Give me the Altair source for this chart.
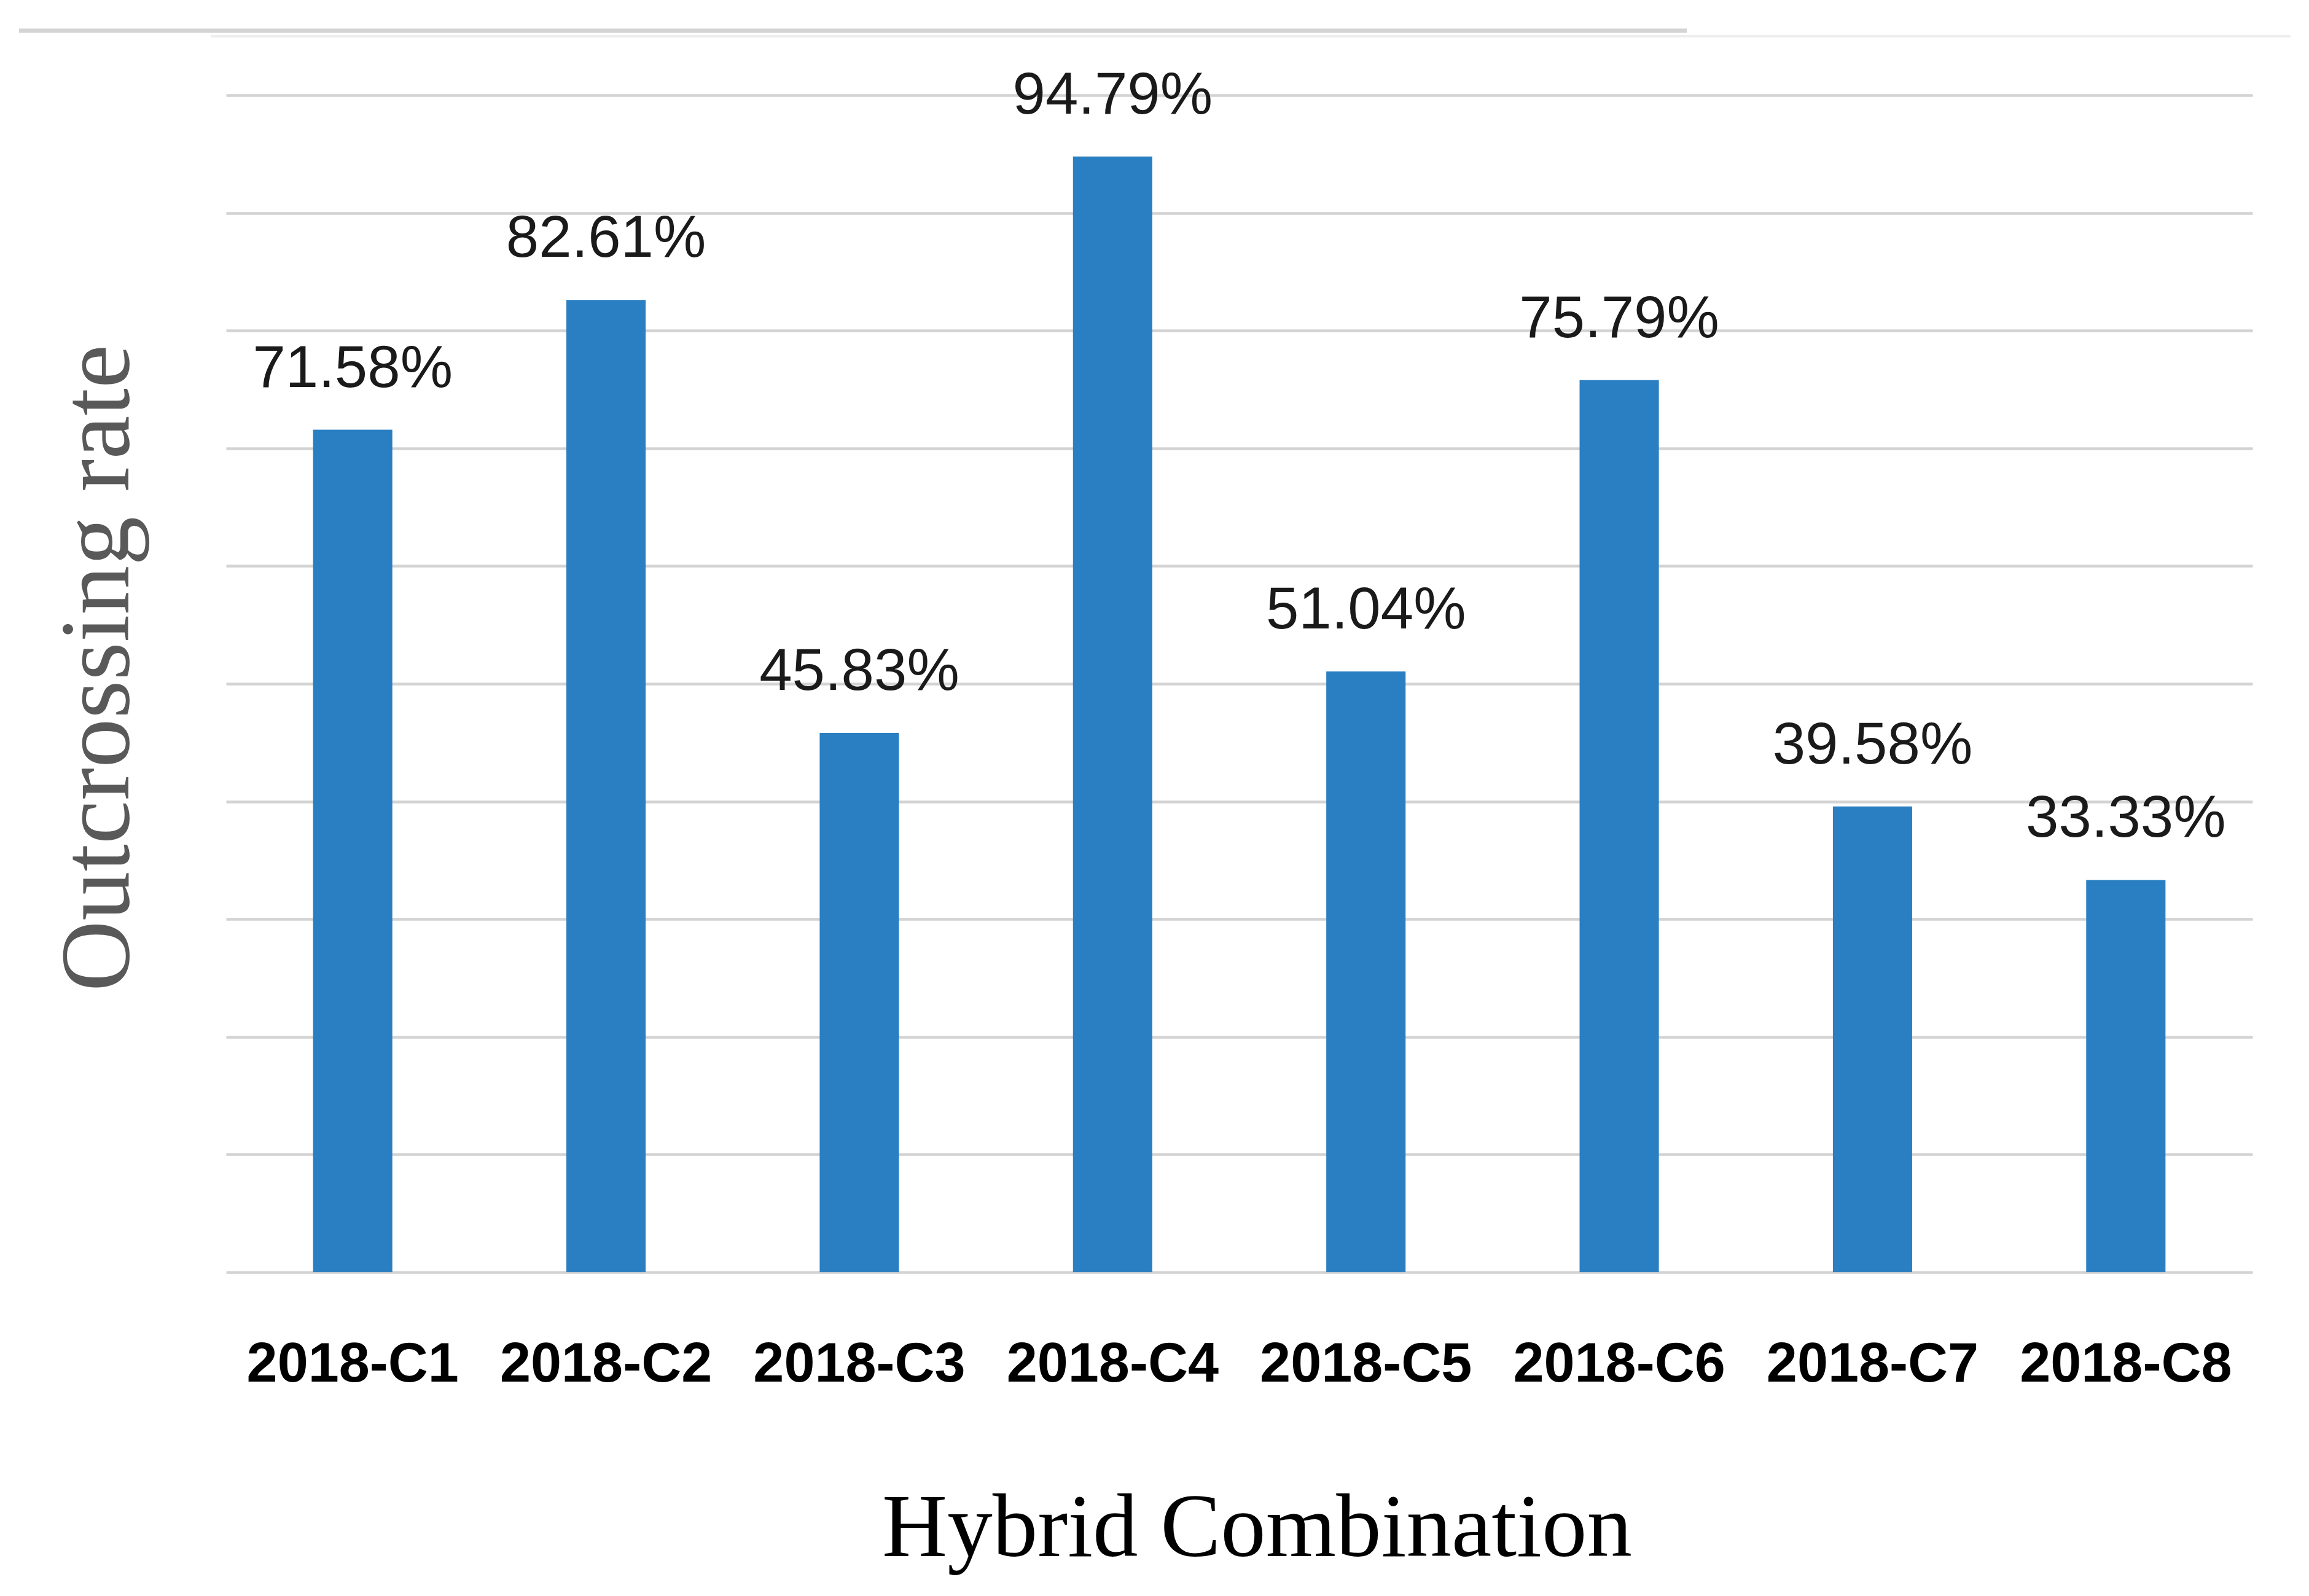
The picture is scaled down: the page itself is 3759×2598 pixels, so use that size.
import altair as alt
import pandas as pd

categories = ["2018-C1", "2018-C2", "2018-C3", "2018-C4", "2018-C5", "2018-C6", "2018-C7", "2018-C8"]
rates = [71.58, 82.61, 45.83, 94.79, 51.04, 75.79, 39.58, 33.33]
grid_values = [0, 10, 20, 30, 40, 50, 60, 70, 80, 90, 100]

df = pd.DataFrame({
    "combo": categories,
    "rate": rates,
    "label": [f"{v:.2f}%" for v in rates],
})

LABEL_FONT = "Liberation Sans Narrow, Arial Narrow, Liberation Sans, sans-serif"
TITLE_FONT = "Liberation Serif, Times New Roman, serif"

x = alt.X(
    "combo:N",
    sort=categories,
    scale=alt.Scale(paddingInner=0.687, paddingOuter=0.3435),
    axis=alt.Axis(
        title="Hybrid Combination",
        titleFont=TITLE_FONT,
        titleFontSize=147,
        titleFontWeight="normal",
        titleColor="#000000",
        titleX=1678,
        titleY=461,
        titleAlign="center",
        titleBaseline="alphabetic",
        labelAngle=0,
        labelFont=LABEL_FONT,
        labelFontSize=90,
        labelFontWeight="bold",
        labelColor="#000000",
        labelBaseline="alphabetic",
        labelPadding=177,
        labelLimit=0,
        labelOverlap=False,
        ticks=False,
        tickSize=0,
        domain=False,
        grid=False,
    ),
)

y = alt.Y(
    "rate:Q",
    scale=alt.Scale(domain=[0, 100], nice=False),
    axis=alt.Axis(
        title="Outcrossing rate",
        titleFont=TITLE_FONT,
        titleFontSize=160,
        titleFontWeight="normal",
        titleColor="#595959",
        titleX=-160,
        titleY=932,
        titleAngle=-90,
        titleAlign="center",
        titleBaseline="alphabetic",
        values=grid_values,
        labels=False,
        ticks=False,
        tickSize=0,
        domain=False,
        grid=True,
        gridColor="#d3d3d3",
        gridWidth=4.5,
    ),
)

bars = alt.Chart(df).mark_bar(color="#2a7fc2").encode(x=x, y=y)

texts = alt.Chart(df).mark_text(
    font=LABEL_FONT,
    fontSize=96,
    color="#1a1a1a",
    baseline="alphabetic",
    align="center",
    dy=-70,
).encode(x=alt.X("combo:N", sort=categories), y=alt.Y("rate:Q"), text="label:N")

deco = pd.DataFrame({"a": [0]})
top_line1 = alt.Chart(deco).mark_rule(color="#d4d4d4", strokeWidth=7).encode(
    x=alt.value(-337), x2=alt.value(2378), y=alt.value(-105)
)
top_line2 = alt.Chart(deco).mark_rule(color="#eeeeee", strokeWidth=4).encode(
    x=alt.value(-25), x2=alt.value(3361), y=alt.value(-96)
)

chart = alt.layer(top_line1, top_line2, bars, texts).properties(
    width=3299,
    height=1916,
    autosize=alt.AutoSizeParams(type="none"),
    padding={"left": 360, "top": 147, "right": 80, "bottom": 500},
    background="white",
).configure_view(stroke=None)

chart.save("out.html", embed_options={"renderer": "svg", "actions": False})
